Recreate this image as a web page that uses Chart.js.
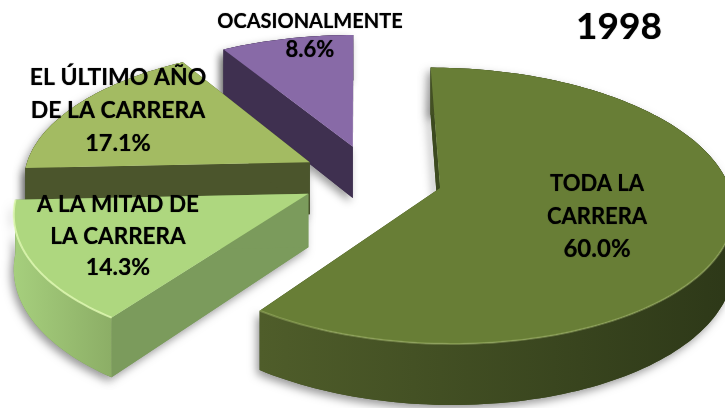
<!DOCTYPE html>
<html>
<head>
<meta charset="utf-8">
<style>
  html, body { margin: 0; padding: 0; background: #fff; overflow: hidden; }
  canvas { display: block; }
</style>
<script src="https://cdn.jsdelivr.net/npm/chart.js@4/dist/chart.umd.js"></script>
</head>
<body>
<canvas id="pie-canvas" width="725" height="408"></canvas>
<script>
const categories = ['TODA LA CARRERA', 'A LA MITAD DE LA CARRERA', 'EL ÚLTIMO AÑO DE LA CARRERA', 'OCASIONALMENTE']
const shares = [60.0, 14.3, 17.1, 8.6]
const chartTitle = '1998'

// how each category name wraps on the picture
const labelLines = [
  ['TODA LA', 'CARRERA'],
  ['A LA MITAD DE', 'LA CARRERA'],
  ['EL ÚLTIMO AÑO', 'DE LA CARRERA'],
  ['OCASIONALMENTE']
]
const labelAnchors = [[597, 184], [118, 205], [118, 78], [310, 22]]
const labelLeading = [32.5, 31.5, 32.5, 28]
const nameSizes = [22, 22.5, 23, 20]
const shareSizes = [24, 23, 23.5, 22]

const topColors = ['#687e36', '#aed77f', '#a3bb62', '#886aa7']
const edgeColors = ['#3c4a1f', '#7b9b5c', '#4b552c', '#3f3050']
const wallLeft = ['#4f5d2a', '#a6cf7d', '#4b552c', '#3f3050']
const wallRight = ['#2d3818', '#8cae66', '#4b552c', '#3f3050']
const rimColors = ['rgba(190,210,130,0.35)', 'rgba(225,250,180,0.8)', null, null]

// back to front
const paintOrder = [3, 2, 0, 1]

// tilted camera over the pie plane, pie radius = 1
const cam = { vx: 357, y0: 204, a: 294, b: 140, k: 0.13, cu: 0.051, cv: -0.192, depth: 54 }

function project(u, v) {
  const t = 1 / (1 - cam.k * v)
  return { x: cam.vx + cam.a * u * t, y: cam.y0 + cam.b * v * t, t }
}

function slicePoints(arc) {
  const R = arc.outerRadius
  const mid = (arc.startAngle + arc.endAngle) / 2
  const off = arc.options.offset / R
  const ou = cam.cu + Math.cos(mid) * off
  const ov = cam.cv + Math.sin(mid) * off
  const rim = []
  const steps = Math.ceil((arc.endAngle - arc.startAngle) * 40)
  for (let i = 0; i <= steps; i++) {
    const ang = arc.startAngle + (arc.endAngle - arc.startAngle) * i / steps
    rim.push({ ...project(ou + Math.cos(ang), ov + Math.sin(ang)), ang })
  }
  return { apex: project(ou, ov), rim }
}

function below(p) {
  return { x: p.x, y: p.y + cam.depth * p.t }
}

function fillPoly(ctx, pts, fill) {
  ctx.beginPath()
  pts.forEach((p, i) => i ? ctx.lineTo(p.x, p.y) : ctx.moveTo(p.x, p.y))
  ctx.closePath()
  ctx.fillStyle = fill
  ctx.fill()
}

const pie3d = {
  id: 'pie3d',
  beforeDatasetsDraw(chart) {
    const ctx = chart.ctx
    const arcs = chart.getDatasetMeta(0).data
    paintOrder.forEach((i) => {
      const { apex, rim } = slicePoints(arcs[i])
      const first = rim[0]
      const last = rim[rim.length - 1]
      const startWall = [apex, first, below(first), below(apex)]
      const endWall = [apex, last, below(last), below(apex)]
      const rimWall = rim.concat(rim.map(below).reverse())

      // soft shadow once, under all the walls of the slice
      ctx.save()
      ctx.shadowColor = 'rgba(0,0,0,0.4)'
      ctx.shadowBlur = 8
      ctx.shadowOffsetX = -3
      ctx.shadowOffsetY = 4
      fillPoly(ctx, rimWall, edgeColors[i])
      fillPoly(ctx, startWall, edgeColors[i])
      ctx.restore()

      fillPoly(ctx, startWall, edgeColors[i])
      fillPoly(ctx, endWall, edgeColors[i])

      const xs = rim.map(p => p.x)
      const grad = ctx.createLinearGradient(Math.min(...xs), 0, Math.max(...xs), 0)
      grad.addColorStop(0, wallLeft[i])
      grad.addColorStop(1, wallRight[i])
      fillPoly(ctx, rimWall, grad)

      fillPoly(ctx, [apex].concat(rim), topColors[i])

      if (rimColors[i]) {
        ctx.beginPath()
        rim.filter(p => Math.sin(p.ang) > 0).forEach((p, n) => n ? ctx.lineTo(p.x, p.y) : ctx.moveTo(p.x, p.y))
        ctx.strokeStyle = rimColors[i]
        ctx.lineWidth = 2
        ctx.stroke()
      }
    })
    return false  // slices are painted above, from the library's arcs
  },
  afterDraw(chart) {
    const ctx = chart.ctx
    ctx.save()
    ctx.textAlign = 'center'
    ctx.textBaseline = 'middle'
    ctx.fillStyle = '#000'
    ctx.shadowColor = 'rgba(0,0,0,0.6)'
    ctx.shadowBlur = 1
    shares.forEach((share, i) => {
      const [x, y] = labelAnchors[i]
      ctx.font = 'bold ' + nameSizes[i] + 'px Lato'
      labelLines[i].forEach((line, n) => ctx.fillText(line, x, y + n * labelLeading[i]))
      ctx.font = 'bold ' + shareSizes[i] + 'px Lato'
      ctx.fillText(share.toFixed(1) + '%', x, y + labelLines[i].length * labelLeading[i])
    })
    ctx.font = 'bold 37px Lato'
    ctx.fillText(chartTitle, 619, 27)
    ctx.restore()
  }
}

new Chart(document.getElementById('pie-canvas'), {
  type: 'pie',
  data: {
    labels: categories,
    datasets: [{
      data: shares,
      backgroundColor: topColors,
      borderWidth: 0,
      offset: 45
    }]
  },
  options: {
    responsive: false,
    animation: false,
    plugins: {
      legend: { display: false },
      tooltip: { enabled: false }
    }
  },
  plugins: [pie3d]
})
</script>
</body>
</html>
